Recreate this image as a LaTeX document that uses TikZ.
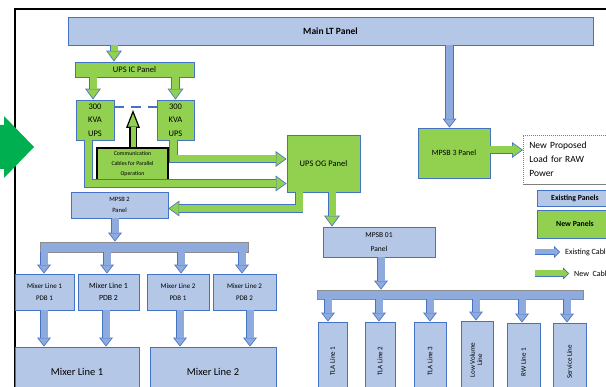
\documentclass[tikz,border=0pt]{standalone}
\usepackage{fontspec}
\setmainfont{Carlito}
\usepackage{graphicx}
\usetikzlibrary{arrows.meta,calc}

\definecolor{panelblue}{HTML}{B4C7E7}
\definecolor{edgeblue}{HTML}{4472C4}
\definecolor{cableblue}{HTML}{8FAADC}
\definecolor{panelgreen}{HTML}{92D050}
\definecolor{busedge}{HTML}{8C8C8C}
\definecolor{pointer}{HTML}{00B050}
\definecolor{loadedge}{HTML}{7F7F7F}

\newcommand\sz[2]{\fontsize{#1}{#2}\selectfont}

% block arrow: #1 fill, #2 edge, #3 shaft width, #4 edge width,
% #5 head length, #6 head width, #7 path
\newcommand\blockarrow[7]{%
  \pgfmathsetmacro\bkOuterW{#3+2*#4}%
  \pgfmathsetmacro\bkTip{#4*sqrt((#6/2)^2+(#5)^2)/(#6/2)}%
  \pgfmathsetmacro\bkInL{#5-\bkTip-#4}%
  \pgfmathsetmacro\bkInW{#6*\bkInL/#5}%
  \draw[line width=\bkOuterW pt, draw=#2,
        -{Triangle[length=#5pt, width=#6pt, line width=0pt, fill=#2]}] #7;
  \draw[line width=#3pt, draw=#1, shorten >=\bkTip pt,
        -{Triangle[length=\bkInL pt, width=\bkInW pt, line width=0pt, fill=#1]}] #7;
}
\newcommand\bluecable[1]{\blockarrow{cableblue}{edgeblue}{7}{0.8}{9}{14}{#1}}
\newcommand\greencable[1]{\blockarrow{panelgreen}{edgeblue}{7}{0.8}{11}{16}{#1}}

\tikzset{
  panel/.style={draw=edgeblue, line width=0.9pt, fill=panelblue, inner sep=0pt, align=center},
  newpanel/.style={panel, fill=panelgreen},
  busbar/.style={draw=busedge, line width=0.8pt, fill=cableblue, inner sep=0pt},
  pdb/.style={panel, minimum height=36pt, font=\sz{7}{12}},
  feeder/.style={panel, minimum height=78pt, font=\sz{7}{8.5}},
}

\begin{document}
\begin{tikzpicture}[x=1pt, y=-1pt]
\useasboundingbox (0,0) rectangle (606,387);
\clip (0,0) rectangle (606,387);

% outer frame
\draw[line width=2pt] (15,400) -- (15,9) -- (620,9);

% panels
\node[panel, minimum width=525pt, minimum height=28pt, font=\sz{9.5}{11}\bfseries] (mainlt) at (330.5,31) {Main LT Panel};
\node[newpanel, minimum width=119pt, minimum height=15pt, font=\sz{8.5}{10}] (upsic) at (134.5,69.5) {UPS IC Panel};
\node[newpanel, minimum width=38pt, minimum height=40pt, font=\sz{8.5}{13.5}] (ups1) at (95,120) {300\\KVA\\UPS};
\node[newpanel, minimum width=37pt, minimum height=40pt, font=\sz{8.5}{13.5}] (ups2) at (175.5,120) {300\\KVA\\UPS};
\node[newpanel, draw=black, line width=1.4pt, minimum width=71pt, minimum height=32pt, font=\sz{5.8}{10}] (comm) at (132.5,164) {Communication\\Cables for Parallel\\Operation};
\node[newpanel, minimum width=73pt, minimum height=57pt, font=\sz{8.5}{10}] (upsog) at (323.5,163.5) {UPS OG Panel};
\node[newpanel, minimum width=72pt, minimum height=50pt, font=\sz{8}{10}] (mpsb3) at (454,153) {MPSB 3 Panel};
\node[draw=loadedge, dash pattern=on 1.2pt off 0.8pt, line width=0.7pt, anchor=west,
      minimum height=49pt, text width=88pt, inner xsep=6pt, inner ysep=0pt, align=left,
      font=\sz{9.5}{14}] (newload) at (523,159.5) {New Proposed\\Load for RAW\\Power};
\node[panel, minimum width=97pt, minimum height=26pt, font=\sz{6.5}{11}] (mpsb2) at (119.5,205) {MPSB 2\\Panel};
\node[panel, minimum width=112pt, minimum height=30pt, font=\sz{7.5}{14}] (mpsb01) at (379,242) {MPSB 01\\Panel};

% bus bars
\node[busbar, minimum width=208pt, minimum height=10pt] (bus1) at (144,247) {};
\node[busbar, minimum width=266pt, minimum height=9pt] (bus2) at (450,294.5) {};

% mixer distribution boards
\node[pdb, minimum width=59pt] (m1p1) at (44.5,292) {Mixer Line 1\\PDB 1};
\node[pdb, minimum width=61pt, font=\sz{7.8}{12}] (m1p2) at (108.5,292) {Mixer Line 1\\PDB 2};
\node[pdb, minimum width=62pt] (m2p1) at (178,292) {Mixer Line 2\\PDB 1};
\node[pdb, minimum width=63pt] (m2p2) at (244.5,292) {Mixer Line 2\\PDB 2};
\node[panel, minimum width=124pt, minimum height=50pt, font=\sz{10.5}{12}] (mixer1) at (77,372) {Mixer Line 1};
\node[panel, minimum width=126pt, minimum height=50pt, font=\sz{10.5}{12}] (mixer2) at (213,372) {Mixer Line 2};

% production lines
\node[feeder, minimum width=29pt] (tla1) at (332.5,361) {\rotatebox{90}{TLA Line 1}};
\node[feeder, minimum width=30pt] (tla2) at (380,361) {\rotatebox{90}{TLA Line 2}};
\node[feeder, minimum width=32pt] (tla3) at (430,361) {\rotatebox{90}{TLA Line 3}};
\node[feeder, minimum width=32pt] (lowvol) at (477,360) {\rotatebox{90}{\renewcommand\arraystretch{0.85}\begin{tabular}{@{}c@{}}Low Volume\\Line\end{tabular}}};
\node[feeder, minimum width=33pt] (rw1) at (523.5,362) {\rotatebox{90}{RW Line 1}};
\node[feeder, minimum width=33pt] (service) at (569.5,362) {\rotatebox{90}{Service Line}};

% legend
\node[panel, minimum width=76pt, minimum height=16pt, font=\sz{7.8}{9}\bfseries] (legold) at (575,198) {Existing Panels};
\node[newpanel, minimum width=76pt, minimum height=28pt, font=\sz{7.8}{9}\bfseries] (legnew) at (575,224) {New Panels};
\node[anchor=west, inner sep=0pt, font=\sz{8}{9}] (legcab1) at (565,252) {Existing Cables};
\node[anchor=west, inner sep=0pt, font=\sz{8}{9}] (legcab2) at (574,273.5) {New\ \ Cables};
\coordinate (k1) at (535,252);
\coordinate (k2) at (535,273.5);
\blockarrow{cableblue}{edgeblue}{5}{0.8}{6}{12}{(k1) -- ([xshift=-5pt]legcab1.west)}
\blockarrow{panelgreen}{edgeblue}{6}{0.8}{6}{12}{(k2) -- ([xshift=-5pt]legcab2.west)}

% communication link between the two UPS units
\draw[edgeblue, line width=2pt, dash pattern=on 10pt off 7pt]
  ([yshift=13pt]ups1.east) -- ([yshift=13pt]ups2.west);
\coordinate (cabletip) at (133,110);
\blockarrow{panelgreen}{black}{5}{1.3}{18}{14}{(comm.north -| cabletip) -- (cabletip)}

% new cables
\coordinate (icfeed) at ([xshift=-20.5pt]upsic.north);
\greencable{(mainlt.south -| icfeed) -- (icfeed)}
\coordinate (u1in) at ([xshift=-2pt]ups1.north);
\greencable{(upsic.south -| u1in) -- (u1in)}
\greencable{(upsic.south -| ups2.north) -- (ups2.north)}
\coordinate (u2out) at ([xshift=-2pt]ups2.south);
\coordinate (og1) at ([yshift=4.5pt]upsog.west);
\greencable{(u2out) |- (og1)}
\coordinate (u1out) at ([xshift=-6.5pt]ups1.south);
\coordinate (og2) at ([yshift=-20pt]upsog.west);
\greencable{(u1out) |- (og2)}
\coordinate (ogout) at ([xshift=-24.5pt]upsog.south);
\coordinate (m2in) at ([yshift=-3.5pt]mpsb2.east);
\greencable{(ogout) |- (m2in)}
\coordinate (ogdown) at ([xshift=8.5pt]upsog.south);
\greencable{(ogdown) -- (mpsb01.north -| ogdown)}
\coordinate (m3out) at ([yshift=3pt]mpsb3.east);
\greencable{(m3out) -- (newload.west |- m3out)}

% existing cables
\coordinate (m3in) at ([xshift=-4.5pt]mpsb3.north);
\bluecable{(mainlt.south -| m3in) -- (m3in)}
\coordinate (m2out) at ([xshift=-4.5pt]mpsb2.south);
\bluecable{(m2out) -- (bus1.north -| m2out)}
\foreach \fd/\dx in {m1p1/-0.5, m1p2/-1.5, m2p1/3, m2p2/-2.5}{
  \coordinate (fin) at ([xshift=\dx pt]\fd.north);
  \bluecable{(bus1.south -| fin) -- (fin)}
}
\foreach \fd/\dx/\dst in {m1p1/-0.5/mixer1, m1p2/-2.5/mixer1, m2p1/2/mixer2, m2p2/5.5/mixer2}{
  \coordinate (fout) at ([xshift=\dx pt]\fd.south);
  \bluecable{(fout) -- (\dst.north -| fout)}
}
\coordinate (m01out) at ([xshift=2pt]mpsb01.south);
\bluecable{(m01out) -- (bus2.north -| m01out)}
\foreach \fd/\dx in {tla1/-4.5, tla2/-1, tla3/0, lowvol/-1, rw1/-1.5, service/-2.5}{
  \coordinate (lin) at ([xshift=\dx pt]\fd.north);
  \bluecable{(bus2.south -| lin) -- (lin)}
}

% pointer on the left margin
\fill[pointer] (-2,125) -- (4,125) -- (4,116) -- (34,147) -- (4,178) -- (4,169) -- (-2,169) -- cycle;
\end{tikzpicture}
\end{document}
